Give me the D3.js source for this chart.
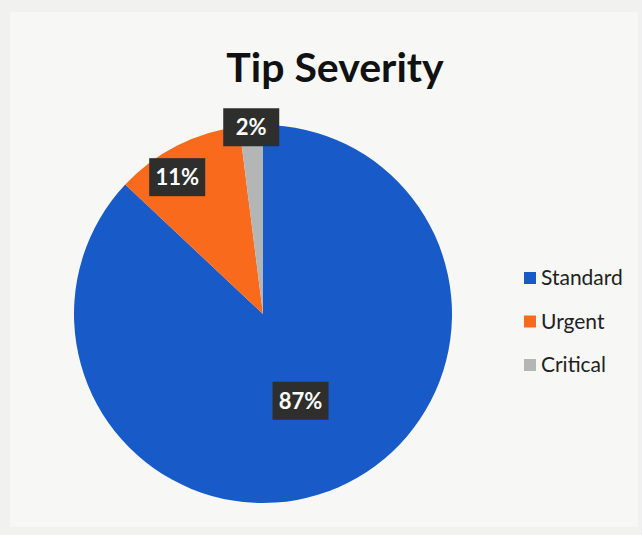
<!DOCTYPE html>
<html>
<head>
<meta charset="utf-8">
<script src="https://cdn.jsdelivr.net/npm/d3@7"></script>
<style>
  body { margin: 0; background: #f1f2ef; }
  svg { display: block; }
</style>
</head>
<body>
<svg id="canvas"></svg>
<script>
let categories = ['Standard', 'Urgent', 'Critical'];
let values = [87, 11, 2];
let colors = ['#185bc8', '#fa6a1c', '#b3b6b4'];

let canvas = d3.select('#canvas');

let drawPie = () => {
  const width = 642;
  const height = 535;
  canvas.attr('width', width).attr('height', height);

  // light chart area like the scanned page
  canvas.append('rect')
    .attr('x', 10).attr('y', 12)
    .attr('width', width - 14).attr('height', height - 20)
    .attr('fill', '#f7f8f5');

  canvas.append('text')
    .attr('x', 335)
    .attr('y', 82)
    .attr('text-anchor', 'middle')
    .attr('font-family', 'Lato, sans-serif')
    .attr('font-weight', 'bold')
    .attr('font-size', 41)
    .attr('fill', '#111')
    .text('Tip Severity');

  const cx = 263, cy = 314, r = 189;
  const data = categories.map((c, i) => ({ name: c, value: values[i], color: colors[i] }));

  const pie = d3.pie().sort(null).value(d => d.value);
  const arc = d3.arc().innerRadius(0).outerRadius(r);
  const arcs = pie(data);

  const g = canvas.append('g').attr('transform', `translate(${cx},${cy})`);

  g.selectAll('path')
    .data(arcs)
    .enter()
    .append('path')
    .attr('d', arc)
    .attr('fill', d => d.data.color);

  // excel-style "best fit": big slice inside, small ones near the edge
  const labelFrac = [0.5, 0.86, 0.99];
  const labelShift = [0, -12, 0];
  const labels = g.selectAll('.lbl')
    .data(arcs)
    .enter()
    .append('g')
    .attr('class', 'lbl')
    .attr('transform', (d, i) => {
      const a = d3.arc().innerRadius(r * labelFrac[i]).outerRadius(r * labelFrac[i]);
      const [x, y] = a.centroid(d);
      return `translate(${x + labelShift[i]},${y + 8 * (i === 1)})`;
    });

  labels.append('rect')
    .attr('x', -28).attr('y', -19)
    .attr('width', 56).attr('height', 38)
    .attr('fill', '#2e2e2c');

  labels.append('text')
    .attr('text-anchor', 'middle')
    .attr('dy', '0.36em')
    .attr('font-family', 'Lato, sans-serif')
    .attr('font-weight', 'bold')
    .attr('font-size', 22)
    .attr('fill', '#fff')
    .text(d => Math.round(d.data.value / d3.sum(values) * 100) + '%');

  // legend
  const legend = canvas.append('g').attr('transform', 'translate(524,278)');
  const item = legend.selectAll('g')
    .data(data)
    .enter()
    .append('g')
    .attr('transform', (d, i) => `translate(0,${i * 43.5})`);

  item.append('rect')
    .attr('x', 0).attr('y', -6)
    .attr('width', 12).attr('height', 12)
    .attr('fill', d => d.color);

  item.append('text')
    .attr('x', 17)
    .attr('dy', '0.35em')
    .attr('font-family', 'Lato, sans-serif')
    .attr('font-size', 21)
    .attr('fill', '#222')
    .text(d => d.name);
};

drawPie();
</script>
</body>
</html>
